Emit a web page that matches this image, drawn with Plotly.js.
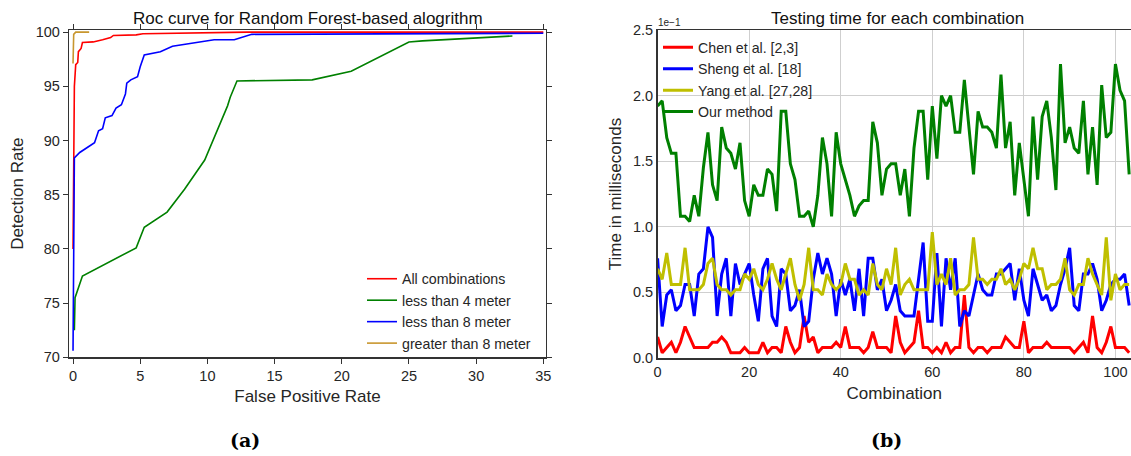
<!DOCTYPE html>
<html>
<head>
<meta charset="utf-8">
<script src="https://cdn.plot.ly/plotly-3.0.1.min.js"></script>
<style>
html,body{margin:0;padding:0;overflow:hidden;background:#fff;}
#chart{width:1131px;height:456px;}
</style>
</head>
<body>
<div id="chart"></div>
<script>
// ---------- (a) ROC curves ----------
const rocAllX = [0.0, 0.05, 0.1, 0.2, 0.35, 0.4, 0.6, 0.7, 1.5, 2.2, 2.8, 3.0, 4.7, 5.2, 8.0, 13.0, 35.0];
const rocAllY = [80.0, 88.0, 95.0, 97.0, 97.2, 98.2, 98.5, 99.05, 99.1, 99.3, 99.5, 99.7, 99.75, 99.85, 99.9, 100.0, 100.0];

const rocLt4X = [0.1, 0.15, 0.7, 4.7, 5.3, 7.0, 8.3, 9.8, 11.5, 11.7, 12.2, 17.8, 20.7, 25.0, 26.0, 32.7];
const rocLt4Y = [72.5, 75.5, 77.5, 80.1, 82.0, 83.4, 85.5, 88.2, 93.2, 94.0, 95.5, 95.6, 96.4, 99.1, 99.2, 99.65];

const rocLt8X = [0.0, 0.1, 0.5, 1.0, 1.6, 1.9, 2.2, 2.4, 2.9, 3.2, 3.6, 3.9, 4.0, 4.3, 4.6, 4.8, 5.0, 5.3, 6.5, 7.4, 10.5, 12.0, 13.3, 35.0];
const rocLt8Y = [70.6, 88.4, 88.9, 89.3, 89.8, 90.9, 91.1, 92.1, 92.3, 93.0, 93.3, 94.3, 95.3, 95.6, 95.8, 95.9, 96.8, 97.9, 98.2, 98.7, 99.3, 99.3, 99.8, 99.9];

const rocGt8X = [0.0, 0.05, 0.2, 1.2];
const rocGt8Y = [97.1, 99.8, 100.0, 100.0];

const rocNames = ["All combinations", "less than 4 meter", "less than 8 meter", "greater than 8 meter"];
const rocXTicks = [0, 5, 10, 15, 20, 25, 30, 35];
const rocYTicks = [70, 75, 80, 85, 90, 95, 100];

// ---------- (b) Testing time (values in units of 1e-1 ms) ----------
const combination = [0,1,2,3,4,5,6,7,8,9,10,11,12,13,14,15,16,17,18,19,20,21,22,23,24,25,26,27,28,29,30,31,32,33,34,35,36,37,38,39,40,41,42,43,44,45,46,47,48,49,50,51,52,53,54,55,56,57,58,59,60,61,62,63,64,65,66,67,68,69,70,71,72,73,74,75,76,77,78,79,80,81,82,83,84,85,86,87,88,89,90,91,92,93,94,95,96,97,98,99,100,101,102,103];

const chenTime = [0.16,0.04,0.08,0.12,0.04,0.12,0.24,0.16,0.08,0.08,
 0.08,0.08,0.12,0.12,0.16,0.12,0.04,0.04,0.04,0.08,
 0.04,0.04,0.04,0.12,0.04,0.08,0.08,0.04,0.24,0.12,
 0.04,0.08,0.32,0.12,0.16,0.04,0.08,0.08,0.08,0.12,
 0.08,0.24,0.08,0.08,0.08,0.04,0.08,0.20,0.08,0.08,
 0.08,0.04,0.32,0.12,0.04,0.08,0.12,0.36,0.08,0.08,
 0.04,0.08,0.04,0.12,0.04,0.08,0.08,0.48,0.08,0.04,
 0.08,0.08,0.04,0.08,0.08,0.08,0.16,0.12,0.08,0.08,
 0.28,0.04,0.08,0.08,0.08,0.12,0.08,0.08,0.08,0.08,
 0.08,0.04,0.08,0.12,0.04,0.32,0.08,0.04,0.12,0.24,
 0.08,0.08,0.08,0.04];

const shengTime = [0.76,0.24,0.48,0.52,0.36,0.40,0.56,0.56,0.32,0.64,
 0.68,1.00,0.92,0.32,0.64,0.76,0.32,0.72,0.56,0.64,
 0.72,0.48,0.28,0.68,0.76,0.32,0.24,0.68,0.64,0.36,
 0.40,0.52,0.24,0.28,0.60,0.80,0.64,0.76,0.64,0.32,
 0.60,0.48,0.60,0.36,0.68,0.32,0.76,0.76,0.52,0.60,
 0.36,0.44,0.56,0.36,0.32,0.32,0.32,0.60,0.88,0.28,
 0.28,0.80,0.24,0.76,0.52,0.76,0.24,0.36,0.32,0.48,
 0.64,0.52,0.48,0.48,0.64,0.64,0.68,0.72,0.44,0.68,
 0.44,0.32,0.68,0.56,0.44,0.48,0.36,0.40,0.56,0.68,
 0.84,0.40,0.36,0.64,0.64,0.72,0.60,0.36,0.44,0.56,
 0.60,0.60,0.64,0.40];

const yangTime = [0.68,0.60,0.80,0.56,0.56,0.56,0.84,0.52,0.52,0.52,
 0.56,0.72,0.76,0.56,0.52,0.52,0.48,0.52,0.52,0.64,
 0.60,0.68,0.56,0.52,0.60,0.72,0.60,0.52,0.64,0.76,
 0.56,0.44,0.56,0.84,0.52,0.52,0.48,0.64,0.56,0.52,
 0.56,0.72,0.60,0.60,0.48,0.52,0.48,0.72,0.56,0.52,
 0.68,0.56,0.84,0.48,0.56,0.60,0.52,0.52,0.52,0.52,
 0.96,0.56,0.64,0.56,0.76,0.48,0.52,0.52,0.56,0.92,
 0.60,0.60,0.56,0.60,0.60,0.68,0.56,0.60,0.52,0.60,
 0.72,0.68,0.84,0.68,0.68,0.52,0.56,0.56,0.60,0.76,
 0.52,0.48,0.56,0.56,0.76,0.64,0.56,0.48,0.92,0.44,
 0.64,0.52,0.56,0.56];

const ourTime = [1.92,1.96,1.68,1.56,1.56,1.08,1.08,1.04,1.24,1.08,
 1.45,1.72,1.32,1.20,1.76,1.60,1.56,1.44,1.64,1.20,
 1.08,1.32,1.24,1.24,1.44,1.40,1.12,1.88,1.88,1.48,
 1.36,1.08,1.08,1.12,1.00,1.24,1.68,1.48,1.08,1.72,
 1.48,1.36,1.24,1.08,1.16,1.20,1.20,1.80,1.64,1.24,
 1.44,1.48,1.48,1.24,1.44,1.08,1.60,1.88,1.88,1.36,
 1.92,1.52,2.00,1.92,2.00,1.72,1.72,2.12,1.76,1.40,
 1.88,1.76,1.76,1.72,1.60,2.16,1.60,1.80,1.24,1.64,
 1.36,1.08,1.84,1.36,1.84,1.96,1.68,1.28,2.24,1.64,
 1.76,1.60,1.56,1.96,1.40,1.76,1.32,2.08,1.68,1.72,
 2.24,2.04,1.96,1.40];

const timeNames = ["Chen et al. [2,3]", "Sheng et al. [18]", "Yang et al. [27,28]", "Our method"];
const timeXTicks = [0, 20, 40, 60, 80, 100];
const timeYTicks = [0.0, 0.5, 1.0, 1.5, 2.0, 2.5];

// ---------- drawing ----------
const W = 1131, H = 456;
const px = v => v / W;
const py = v => (H - v) / H;
const FONT = "Liberation Sans, Arial, sans-serif";
const TXT = "#262626";

const rocColors = ["#ff0000", "#008000", "#0000ff", "#c8962e"];
const timeColors = ["#ff0000", "#0000ff", "#bfbf00", "#008000"];

const rocSeries = [[rocAllX, rocAllY], [rocLt4X, rocLt4Y], [rocLt8X, rocLt8Y], [rocGt8X, rocGt8Y]];
const timeSeries = [chenTime, shengTime, yangTime, ourTime];

const traces = [];
rocSeries.forEach((s, k) => {
  traces.push({
    type: "scatter", mode: "lines", x: s[0], y: s[1], name: rocNames[k],
    xaxis: "x", yaxis: "y", legend: "legend",
    line: {color: rocColors[k], width: 1.6}
  });
});
timeSeries.forEach((s, k) => {
  traces.push({
    type: "scatter", mode: "lines", x: combination, y: s, name: timeNames[k],
    xaxis: "x2", yaxis: "y2", legend: "legend2",
    line: {color: timeColors[k], width: 3}
  });
});

const TICKF = {size: 14.5, color: TXT, family: FONT};
const AXTF = {size: 17, color: TXT, family: FONT};

const layout = {
  width: W, height: H,
  margin: {l: 0, r: 0, t: 0, b: 0},
  paper_bgcolor: "#fff", plot_bgcolor: "#fff",
  font: {family: FONT, color: TXT, size: 14},
  showlegend: true,
  xaxis: {
    domain: [px(69), px(546)], anchor: "y",
    range: [-0.3, 35.2], tickvals: rocXTicks, ticktext: rocXTicks.map(String),
    ticks: "outside", ticklen: 5, tickwidth: 1, tickcolor: "#333",
    showline: true, linecolor: "#333", linewidth: 1.2, mirror: "ticks",
    showgrid: false, zeroline: false,
    tickfont: TICKF,
    title: {text: "False Positive Rate", font: AXTF, standoff: 7}
  },
  yaxis: {
    domain: [py(357.3), py(30)], anchor: "x",
    range: [70, 100.2], tickvals: rocYTicks, ticktext: rocYTicks.map(String),
    ticks: "outside", ticklen: 5, tickwidth: 1, tickcolor: "#333",
    showline: true, linecolor: "#333", linewidth: 1.2, mirror: "ticks",
    showgrid: false, zeroline: false,
    tickfont: TICKF,
    title: {text: "Detection Rate", font: AXTF, standoff: 7}
  },
  xaxis2: {
    domain: [px(657.6), 1], anchor: "y2",
    range: [0, 103.4], tickvals: timeXTicks, ticktext: timeXTicks.map(String),
    ticks: "", showline: true, linecolor: "#333", linewidth: 1.5, mirror: true,
    showgrid: true, gridcolor: "#cfcfcf", gridwidth: 1, zeroline: false,
    tickfont: TICKF,
    title: {text: "Combination", font: AXTF, standoff: 8}
  },
  yaxis2: {
    domain: [py(358), py(30)], anchor: "x2",
    range: [0, 2.5], tickvals: timeYTicks, ticktext: timeYTicks.map(v => v.toFixed(1)),
    ticks: "", showline: true, linecolor: "#333", linewidth: 1.5, mirror: true,
    showgrid: true, gridcolor: "#cfcfcf", gridwidth: 1, zeroline: false,
    tickfont: TICKF,
    title: {text: "Time in milliseconds", font: AXTF, standoff: 7}
  },
  legend: {
    x: px(362), y: py(263), xanchor: "left", yanchor: "top",
    bgcolor: "rgba(255,255,255,0)", borderwidth: 0,
    font: {size: 14.2, color: TXT, family: FONT}, tracegroupgap: 0
  },
  legend2: {
    x: px(658), y: py(31.5), xanchor: "left", yanchor: "top",
    bgcolor: "rgba(255,255,255,0)", borderwidth: 0,
    font: {size: 14.2, color: TXT, family: FONT}, tracegroupgap: 0
  },
  annotations: [
    {text: "Roc curve for Random Forest-based alogrithm", xref: "paper", yref: "paper",
     x: px(308), y: py(19), xanchor: "center", yanchor: "middle", showarrow: false,
     font: {size: 17, color: "#111", family: FONT}},
    {text: "Testing time for each combination", xref: "paper", yref: "paper",
     x: px(897), y: py(19), xanchor: "center", yanchor: "middle", showarrow: false,
     font: {size: 17, color: "#111", family: FONT}},
    {text: "1e\u22121", xref: "paper", yref: "paper",
     x: px(656), y: py(23), xanchor: "left", yanchor: "middle", showarrow: false,
     font: {size: 10, color: TXT, family: FONT}},
    {text: "<b>(a)</b>", xref: "paper", yref: "paper",
     x: px(245), y: py(440), xanchor: "center", yanchor: "middle", showarrow: false,
     font: {size: 19, color: "#000", family: "DejaVu Serif, Liberation Serif, serif"}},
    {text: "<b>(b)</b>", xref: "paper", yref: "paper",
     x: px(886), y: py(440), xanchor: "center", yanchor: "middle", showarrow: false,
     font: {size: 19, color: "#000", family: "DejaVu Serif, Liberation Serif, serif"}}
  ]
};

Plotly.newPlot("chart", traces, layout, {displayModeBar: false, staticPlot: true});
</script>
</body>
</html>
